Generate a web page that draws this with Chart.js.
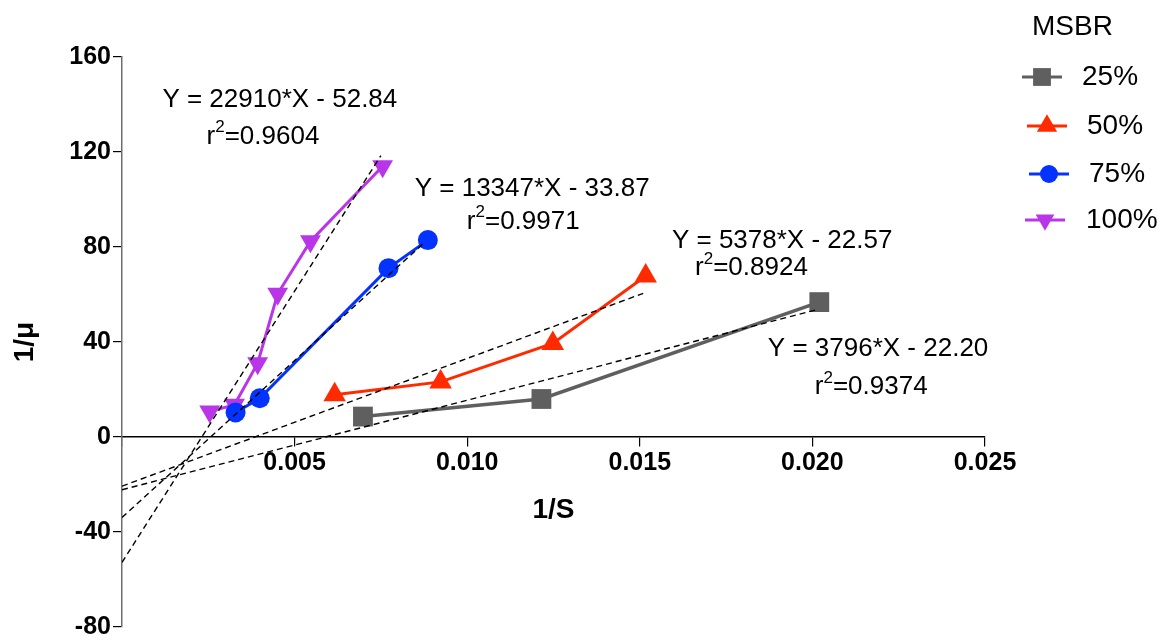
<!DOCTYPE html>
<html>
<head>
<meta charset="utf-8">
<script src="https://cdn.jsdelivr.net/npm/chart.js@4/dist/chart.umd.min.js"></script>
<style>
  html, body { margin: 0; padding: 0; background: #fff; }
  #wrap { width: 1161px; height: 644px; }
</style>
</head>
<body>
<div id="wrap"><canvas id="chart" width="1161" height="644"></canvas></div>
<script>
// Series (x = 1/S, y = 1/mu)
const msbr25 = [
  { x: 0.00698, y: 8.6 }, { x: 0.01215, y: 16.0 }, { x: 0.0202, y: 56.8 }
];
const msbr50 = [
  { x: 0.00616, y: 17.8 }, { x: 0.00923, y: 23.2 }, { x: 0.01248, y: 39.4 }, { x: 0.01517, y: 67.8 }
];
const msbr75 = [
  { x: 0.00329, y: 10.3 }, { x: 0.00399, y: 16.3 }, { x: 0.00772, y: 71.1 }, { x: 0.00886, y: 82.9 }
];
const msbr100 = [
  { x: 0.00254, y: 10.7 }, { x: 0.00326, y: 13.6 }, { x: 0.00393, y: 31.1 },
  { x: 0.00451, y: 60.3 }, { x: 0.00546, y: 82.4 }, { x: 0.00755, y: 114 }
];

// Fit lines (dashed), end points
const fit25 = [{ x: 0, y: -22.2 }, { x: 0.0201, y: 53.5 }];
const fit50 = [{ x: 0, y: -20.7 }, { x: 0.0151, y: 60.5 }];
const fit75 = [{ x: 0, y: -33.9 }, { x: 0.00877, y: 82 }];
const fit100 = [{ x: 0, y: -52.8 }, { x: 0.0075, y: 118.5 }];

const seriesNames = ["25%", "50%", "75%", "100%"];
const equations = ["Y = 3796*X - 22.20", "Y = 5378*X - 22.57", "Y = 13347*X - 33.87", "Y = 22910*X - 52.84"];
const rSquared = ["0.9374", "0.8924", "0.9971", "0.9604"];

// where each equation / r2 text sits, in data units
const eqPos = [[0.01871, 37], [0.01593, 82.8], [0.00848, 104.5], [0.00117, 142]];
const r2Pos = [[0.02007, 21.1], [0.0166, 71.1], [0.00999, 90.7], [0.00245, 126.5]];

const xTicks = [0, 0.005, 0.010, 0.015, 0.020, 0.025];
const yTicks = [-80, -40, 0, 40, 80, 120, 160];

const colors = ["#5f5f5f", "#ff2a00", "#0433ff", "#b936e8"];
const styles = [
  { pointStyle: "rect", radius: 14, rotation: 0 },
  { pointStyle: "triangle", radius: 13, rotation: 0 },
  { pointStyle: "circle", radius: 10, rotation: 0 },
  { pointStyle: "triangle", radius: 12, rotation: 180 }
];

const FONT = "'Liberation Sans', Arial, sans-serif";

function seriesDataset(i, data) {
  return {
    label: seriesNames[i],
    data,
    borderColor: colors[i],
    backgroundColor: colors[i],
    borderWidth: i === 0 ? 3.5 : 3,
    pointStyle: styles[i].pointStyle,
    pointRadius: styles[i].radius,
    pointRotation: styles[i].rotation,
    pointBorderWidth: 0,
    showLine: true,
    order: 2
  };
}

function fitDataset(data) {
  return {
    label: "fit",
    data,
    borderColor: "#000",
    borderWidth: 1.4,
    borderDash: [6, 4],
    pointRadius: 0,
    showLine: true,
    order: 1
  };
}

const textPlugin = {
  id: "texts",
  afterDraw(chart) {
    const ctx = chart.ctx;
    const xs = chart.scales.x, ys = chart.scales.y;
    ctx.save();
    ctx.fillStyle = "#000";
    ctx.textBaseline = "middle";
    ctx.textAlign = "left";
    for (let i = 0; i < equations.length; i++) {
      ctx.font = "26px " + FONT;
      ctx.fillText(equations[i], xs.getPixelForValue(eqPos[i][0]), ys.getPixelForValue(eqPos[i][1]));
      let px = xs.getPixelForValue(r2Pos[i][0]);
      const py = ys.getPixelForValue(r2Pos[i][1]);
      ctx.fillText("r", px, py);
      px += ctx.measureText("r").width;
      ctx.font = "17px " + FONT;
      ctx.fillText("2", px, py - 9);
      px += ctx.measureText("2").width;
      ctx.font = "26px " + FONT;
      ctx.fillText("=" + rSquared[i], px, py);
    }

    // legend
    ctx.font = "28px " + FONT;
    ctx.fillText("MSBR", 1032, 27);
    const rows = [77, 126, 174, 220];
    const lineX = [1022, 1027, 1029, 1025];
    const labelX = [1082, 1087, 1089, 1086];
    for (let i = 0; i < seriesNames.length; i++) {
      const y = rows[i];
      ctx.strokeStyle = colors[i];
      ctx.lineWidth = 3;
      ctx.beginPath();
      ctx.moveTo(lineX[i], y);
      ctx.lineTo(lineX[i] + 40, y);
      ctx.stroke();
      ctx.fillStyle = colors[i];
      Chart.helpers.drawPoint(ctx, {
        pointStyle: styles[i].pointStyle,
        radius: styles[i].radius * 0.9,
        rotation: styles[i].rotation,
        borderWidth: 0
      }, lineX[i] + 20, y);
      ctx.fillStyle = "#000";
      ctx.font = "28px " + FONT;
      ctx.fillText(seriesNames[i], labelX[i], y);
    }
    ctx.restore();
  }
};

new Chart(document.getElementById("chart"), {
  type: "scatter",
  data: {
    datasets: [
      fitDataset(fit25), fitDataset(fit50), fitDataset(fit75), fitDataset(fit100),
      seriesDataset(0, msbr25), seriesDataset(1, msbr50), seriesDataset(2, msbr75), seriesDataset(3, msbr100)
    ]
  },
  options: {
    responsive: false,
    animation: false,
    layout: { autoPadding: false, padding: { left: 0, right: 176, top: 57, bottom: 5 } },
    plugins: { legend: { display: false }, tooltip: { enabled: false } },
    scales: {
      x: {
        type: "linear",
        min: 0,
        max: 0.025,
        position: { y: 0 },
        afterBuildTicks: (s) => { s.ticks = xTicks.map(v => ({ value: v })); },
        ticks: {
          color: "#000",
          font: { family: FONT, size: 25, weight: "bold" },
          padding: 2,
          maxRotation: 0,
          callback: (v) => (v === 0 ? "" : v.toFixed(3))
        },
        grid: { drawOnChartArea: false, drawTicks: true, tickLength: 9, color: "#000", lineWidth: 1.2 },
        border: { display: true, color: "#000", width: 1.5 },
        title: {
          display: true,
          text: "1/S",
          color: "#000",
          font: { family: FONT, size: 28, weight: "bold" },
          padding: { top: 13, bottom: 0 }
        }
      },
      y: {
        type: "linear",
        min: -80,
        max: 160,
        position: "left",
        afterBuildTicks: (s) => { s.ticks = yTicks.map(v => ({ value: v })); },
        afterFit: (s) => { s.width = 122; },
        ticks: {
          color: "#000",
          font: { family: FONT, size: 25, weight: "bold" },
          padding: 2
        },
        grid: { drawOnChartArea: false, drawTicks: true, tickLength: 9, color: "#000", lineWidth: 1.2 },
        border: { display: true, color: "#6e6e6e", width: 1.5 },
        title: {
          display: true,
          text: "1/μ",
          color: "#000",
          font: { family: FONT, size: 28, weight: "bold" },
          padding: { top: 8, bottom: 0 }
        }
      }
    }
  },
  plugins: [textPlugin]
});
</script>
</body>
</html>
